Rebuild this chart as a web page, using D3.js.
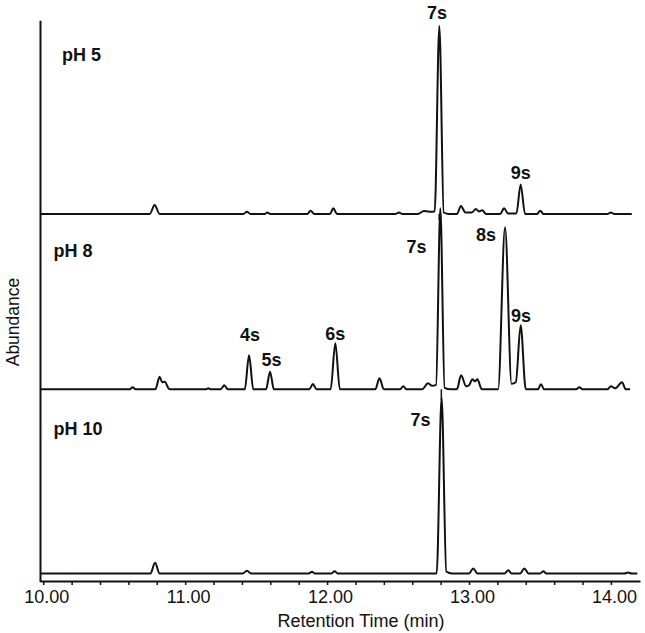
<!DOCTYPE html>
<html>
<head>
<meta charset="utf-8">
<script src="https://cdn.jsdelivr.net/npm/d3@7"></script>
<style>
  body { margin: 0; background: #fff; }
  svg { display: block; font-family: "Liberation Sans", Arial, sans-serif; }
  .trace { fill: none; stroke: #111; stroke-width: 2; stroke-linejoin: round; }
  .peak-label, .panel-label { font-weight: bold; font-size: 18px; fill: #111; }
</style>
</head>
<body>
<svg id="chart" width="645" height="633"></svg>
<script>
// panels, top to bottom
const panelNames = ["pH 5", "pH 8", "pH 10"];

// chromatograms: [retention time (min), abundance]
const tracePH5 = [
  [9.98, 0], [10.75, 0], [10.785, 9], [10.82, 0],
  [11.41, 0], [11.435, 2.3], [11.46, 0],
  [11.56, 0], [11.58, 1.5], [11.60, 0],
  [11.86, 0], [11.884, 3.3], [11.91, 0],
  [12.02, 0], [12.044, 5.7], [12.07, 0],
  [12.48, 0], [12.507, 1.5], [12.53, 0],
  [12.64, 0], [12.682, 3], [12.72, 2.3], [12.758, 2.5], [12.791, 188], [12.822, 1.5], [12.86, 0],
  [12.915, 0], [12.943, 8], [12.975, 1.5], [13.02, 1.5], [13.049, 5], [13.07, 2.5], [13.094, 3.7], [13.12, 0],
  [13.22, 0], [13.247, 5.7], [13.275, 0.5], [13.334, 0.5], [13.364, 29.5], [13.395, 0],
  [13.48, 0], [13.502, 3.3], [13.525, 0],
  [13.975, 0], [14.0, 1.5], [14.025, 0], [14.147, 0]
];

const tracePH8 = [
  [9.98, 0], [10.61, 0], [10.63, 2], [10.65, 0],
  [10.79, 0], [10.82, 12.6], [10.838, 7], [10.855, 7.6], [10.89, 0],
  [11.145, 0], [11.163, 1], [11.18, 0],
  [11.25, 0], [11.276, 4], [11.30, 0],
  [11.42, 0], [11.45, 34], [11.48, 0],
  [11.57, 0], [11.598, 17.6], [11.625, 0],
  [11.875, 0], [11.90, 5.3], [11.925, 0],
  [12.025, 0], [12.058, 46], [12.09, 0],
  [12.34, 0], [12.369, 11], [12.40, 0],
  [12.515, 0], [12.537, 3], [12.56, 0],
  [12.67, 0], [12.711, 6], [12.74, 3.5], [12.768, 4.5], [12.798, 181], [12.828, 1.5], [12.87, 0],
  [12.915, 0], [12.944, 14], [12.98, 3], [13.0, 4], [13.024, 10], [13.042, 8], [13.059, 10], [13.09, 0],
  [13.205, 0], [13.254, 162], [13.30, 5.5], [13.33, 7], [13.364, 64], [13.40, 0],
  [13.485, 0], [13.507, 5], [13.53, 0],
  [13.755, 0], [13.778, 2], [13.80, 0],
  [13.975, 0], [14.0, 3], [14.03, 1], [14.078, 7], [14.105, 0], [14.135, 0]
];

const tracePH10 = [
  [9.98, 0], [10.755, 0], [10.788, 10.7], [10.82, 0],
  [11.405, 0], [11.435, 2.7], [11.465, 0],
  [11.87, 0], [11.894, 1.7], [11.915, 0],
  [12.03, 0], [12.053, 2.3], [12.075, 0],
  [12.772, 0], [12.807, 176], [12.84, 2], [12.88, 0],
  [13.0, 0], [13.03, 5], [13.06, 0],
  [13.25, 0], [13.277, 3.3], [13.30, 0],
  [13.36, 0], [13.39, 5], [13.42, 0],
  [13.50, 0], [13.524, 2.3], [13.545, 0],
  [14.095, 0], [14.12, 1], [14.145, 0], [14.186, 0]
];

// peak annotations: [text, retention time, abundance]
const labelsPH5 = [["7s", 12.774, 194.7], ["9s", 13.364, 34.7]];
const labelsPH8 = [
  ["4s", 11.457, 48.6], ["5s", 11.609, 23.6], ["6s", 12.058, 49.3],
  ["7s", 12.631, 136], ["8s", 13.12, 148.6], ["9s", 13.366, 67.6]
];
const labelsPH10 = [["7s", 12.659, 147.5]];

// small injection marks under the baseline: [retention time, abundance]
const marksPH5 = [[12.79, -6]];
const marksPH8 = [[12.805, -11]];
const marksPH10 = [];

const majorTicks = [10, 11, 12, 13, 14];
const minorTicks = d3.range(0, 21).map(i => 10 + i * 0.2);

const panels = panelNames.map((name, i) => ({
  name,
  trace: [tracePH5, tracePH8, tracePH10][i],
  labels: [labelsPH5, labelsPH8, labelsPH10][i],
  marks: [marksPH5, marksPH8, marksPH10][i]
}));

// layout
const axisY = 581;
const axisLeft = 40.5;
const baselines = [214, 389.3, 573.5];
const panelLabelPos = [[62, 60.7], [53.5, 257.3], [53.5, 435]];

const svg = d3.select("#chart");

const x = d3.scaleLinear().domain([9.977, 14.205]).range([40, 640]);
const y = d3.scaleLinear().domain([0, 200]).range([0, -200]);

const line = d3.line()
  .x(d => x(d[0]))
  .y(d => y(d[1]))
  .curve(d3.curveMonotoneX);

panels.forEach((p, i) => {
  const g = svg.append("g").attr("transform", `translate(0,${baselines[i]})`);

  g.selectAll("line.mark")
    .data(p.marks)
    .join("line")
    .attr("class", "mark")
    .attr("x1", d => x(d[0]))
    .attr("x2", d => x(d[0]))
    .attr("y1", y(0))
    .attr("y2", d => y(d[1]))
    .attr("stroke", "#111")
    .attr("stroke-width", 1.5);

  g.append("path").attr("class", "trace").datum(p.trace).attr("d", line);

  g.selectAll("text.peak-label")
    .data(p.labels)
    .join("text")
    .attr("class", "peak-label")
    .attr("text-anchor", "middle")
    .attr("x", d => x(d[1]))
    .attr("y", d => y(d[2]))
    .text(d => d[0]);

  svg.append("text")
    .attr("class", "panel-label")
    .attr("x", panelLabelPos[i][0])
    .attr("y", panelLabelPos[i][1])
    .text(p.name);
});

// x axis
const xAxis = d3.axisBottom(x)
  .tickValues(minorTicks)
  .tickSize(4)
  .tickSizeOuter(0)
  .tickPadding(5.5)
  .tickFormat(d => majorTicks.some(m => Math.abs(m - d) < 1e-6) ? d.toFixed(2) : "");

const ax = svg.append("g").attr("transform", `translate(0,${axisY})`).call(xAxis);
ax.select(".domain").attr("stroke", "#111").attr("stroke-width", 2);
ax.selectAll(".tick line").attr("stroke", "#111").attr("stroke-width", 1.5);
ax.selectAll(".tick text")
  .attr("font-family", "Liberation Sans, Arial, sans-serif")
  .attr("font-size", 18)
  .attr("dx", 3)
  .attr("fill", "#111");

// left axis line
svg.append("line")
  .attr("x1", axisLeft).attr("x2", axisLeft)
  .attr("y1", 20.7).attr("y2", axisY + 1)
  .attr("stroke", "#111").attr("stroke-width", 2);

svg.append("text")
  .attr("x", 361).attr("y", 626.5)
  .attr("text-anchor", "middle")
  .attr("font-size", 18)
  .attr("fill", "#111")
  .text("Retention Time (min)");

svg.append("text")
  .attr("transform", "translate(18.5,322) rotate(-90)")
  .attr("text-anchor", "middle")
  .attr("font-size", 17.5)
  .attr("fill", "#111")
  .text("Abundance");
</script>
</body>
</html>
